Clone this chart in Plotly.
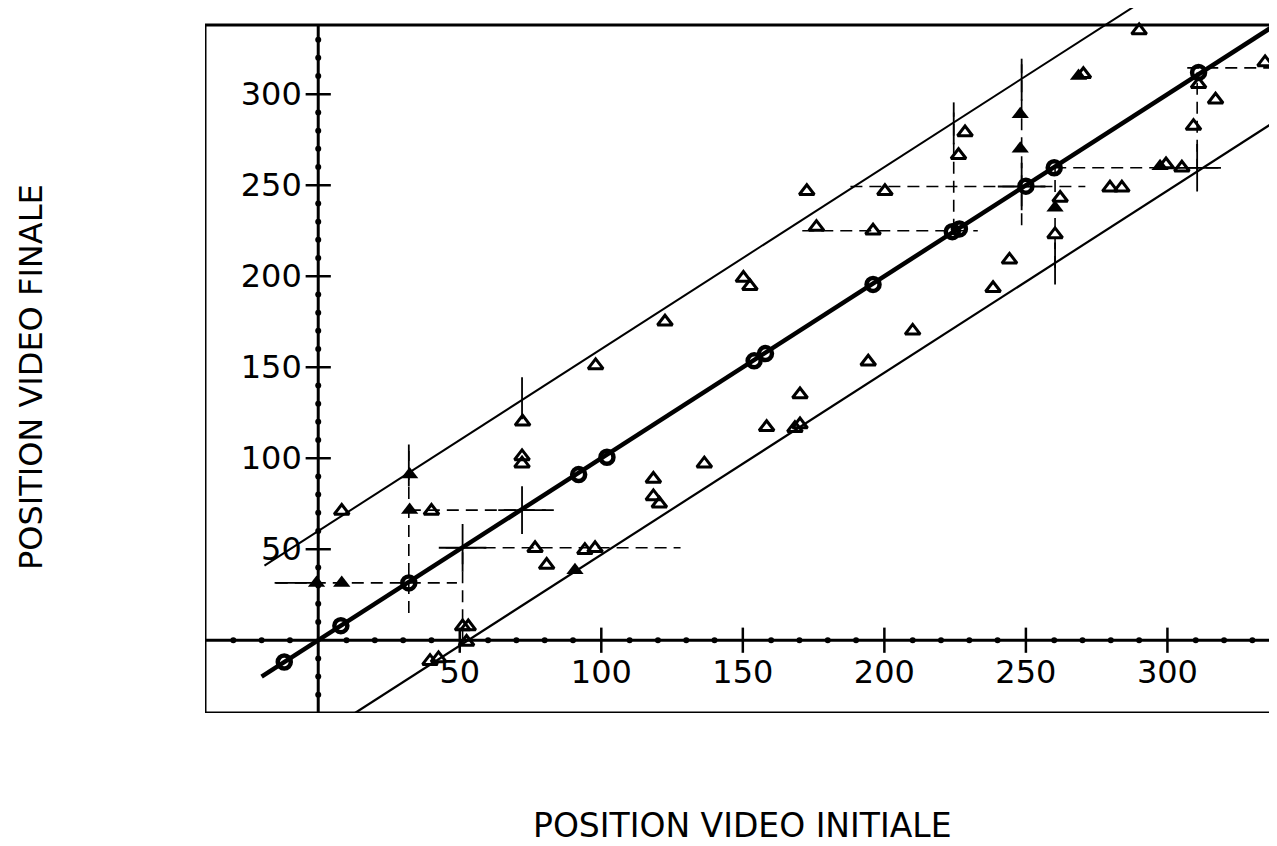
import plotly.graph_objects as go

# Plages des axes
x_range = [-40, 338]
y_range = [-40, 347.4]
frame_top = 338

# Graduations
major_ticks = [50, 100, 150, 200, 250, 300]
minor_ticks = [v for v in range(-30, 340, 10) if v != 0 and v % 50 != 0]

# Droites : diagonale et bandes
diag_x = [-20, 338]
diag_y = [-20, 338]
upper_x = [-19, 288]
upper_y = [41, 348]
lower_x = [13, 338]
lower_y = [-40, 285]

# Points sur la diagonale (cercles)
circ_x = [-12, 8, 32, 92, 102, 154, 158, 196, 224, 226.5, 250, 260, 311]
circ_y = [-12, 8, 31.5, 91, 100.5, 153.5, 157.5, 195.5, 224.5, 226, 249.5, 259.6, 312]

# Triangles ouverts
tri_x = [8.3, 40, 51, 53, 52.4, 39.5, 42.5, 76.6, 80.7, 94.2, 97.8, 72.2, 72, 72,
         98, 122.5, 210, 194.3, 170.2, 158.4, 170.2, 168.4, 136.4, 118.4, 118.4, 120.5,
         228.5, 226.2, 172.6, 200.2, 176, 196, 150.2, 152.5, 238.4, 290, 334.5, 270.3,
         311, 317, 309.2, 299.5, 305.1, 279.7, 283.9, 262.1, 260.3, 244.2]
tri_y = [71, 71, 7.5, 7.5, -1, -11.5, -10, 50.5, 41.3, 49.5, 50.5, 120, 101, 97,
         151, 175, 170, 153, 135, 117, 118.5, 116.5, 97, 88.6, 79, 75,
         279, 266.5, 246.7, 246.7, 227, 225, 199, 194.5, 193.4, 335, 317.5, 311,
         305.5, 297, 282.5, 261.4, 259.6, 248.6, 248.6, 243, 223, 209]

# Triangles pleins
tri_full_x = [-0.6, 8.3, 32.3, 32.3, 248, 248, 297.4, 268.6, 260.3, 90.7]
tri_full_y = [31.5, 31.5, 91, 71.5, 289, 270, 260.5, 310, 237.6, 38.5]

# Projections en tirets (x0, x1, y0, y1)
guide_x0 = [-15, 32, 32, 45, 51, 171, 224.5, 188, 248.5, 260, 260.3, 307, 310.5]
guide_x1 = [49, 32, 84, 128, 51, 233, 224.5, 271, 248.5, 319, 260.3, 338, 310.5]
guide_y0 = [31.5, 15, 71.5, 50.8, 0, 225, 225, 249.3, 228, 259.6, 204.5, 314.5, 258]
guide_y1 = [31.5, 104, 71.5, 50.8, 50.8, 225, 290, 249.3, 316.5, 259.6, 259.6, 314.5, 312]

# Repères pleins aux intersections
cross_x = [72, 51, 248.5, 310.5]
cross_y = [71.5, 50.8, 249.3, 259.6]
vtick_x = [32, 72, 224.5, 248.5, 260.3]
vtick_y = [96, 133, 284, 308, 207]
htick_x = [-7]
htick_y = [31.5]

fig = go.Figure()

for a, b, c, d in zip(guide_x0, guide_x1, guide_y0, guide_y1):
    fig.add_trace(go.Scatter(x=[a, b], y=[c, d], mode="lines",
                             line=dict(color="black", width=1.6, dash="12px,7px")))

fig.add_trace(go.Scatter(x=diag_x, y=diag_y, mode="lines", line=dict(color="black", width=4.5)))
fig.add_trace(go.Scatter(x=upper_x, y=upper_y, mode="lines", line=dict(color="black", width=2)))
fig.add_trace(go.Scatter(x=lower_x, y=lower_y, mode="lines", line=dict(color="black", width=2.2)))

fig.add_trace(go.Scatter(x=cross_x, y=cross_y, mode="markers",
                         marker=dict(symbol="cross-thin", size=34, color="black",
                                     line=dict(color="black", width=1.8))))
fig.add_trace(go.Scatter(x=vtick_x, y=vtick_y, mode="markers",
                         marker=dict(symbol="line-ns", size=30, color="black",
                                     line=dict(color="black", width=1.8))))
fig.add_trace(go.Scatter(x=htick_x, y=htick_y, mode="markers",
                         marker=dict(symbol="line-ew", size=34, color="black",
                                     line=dict(color="black", width=1.8))))

# graduations des axes croisés
zeros_major = [0] * len(major_ticks)
zeros_minor = [0] * len(minor_ticks)
fig.add_trace(go.Scatter(x=major_ticks, y=zeros_major, mode="markers",
                         marker=dict(symbol="line-ns", size=18, color="black",
                                     line=dict(color="black", width=2.5))))
fig.add_trace(go.Scatter(x=zeros_major, y=major_ticks, mode="markers",
                         marker=dict(symbol="line-ew", size=18, color="black",
                                     line=dict(color="black", width=2.5))))
fig.add_trace(go.Scatter(x=minor_ticks, y=zeros_minor, mode="markers",
                         marker=dict(symbol="circle", size=6, color="black")))
fig.add_trace(go.Scatter(x=zeros_minor, y=minor_ticks, mode="markers",
                         marker=dict(symbol="circle", size=6, color="black")))

fig.add_trace(go.Scatter(x=circ_x, y=circ_y, mode="markers",
                         marker=dict(symbol="circle-open", size=13, color="black",
                                     line=dict(color="black", width=4.5))))
fig.add_trace(go.Scatter(x=tri_x, y=tri_y, mode="markers",
                         marker=dict(symbol="triangle-up-open", size=13, color="black",
                                     line=dict(color="black", width=3))))
fig.add_trace(go.Scatter(x=tri_full_x, y=tri_full_y, mode="markers",
                         marker=dict(symbol="triangle-up", size=15, color="black")))

# cadre et axes passant par zéro
fig.add_shape(type="rect", xref="x", yref="y", x0=x_range[0], x1=x_range[1],
              y0=y_range[0], y1=frame_top, line=dict(color="black", width=3))
fig.add_shape(type="line", xref="x", yref="y", x0=0, x1=0, y0=y_range[0], y1=frame_top,
              line=dict(color="black", width=3))
fig.add_shape(type="line", xref="x", yref="y", x0=x_range[0], x1=x_range[1], y0=0, y1=0,
              line=dict(color="black", width=3))

tick_font = dict(family="DejaVu Sans", size=32, color="black")
fig.update_layout(
    width=1269, height=838,
    margin=dict(l=197, r=2, t=0, b=133),
    paper_bgcolor="white", plot_bgcolor="white",
    showlegend=False,
    xaxis=dict(range=x_range, showgrid=False, zeroline=False, showline=False,
               tickvals=major_ticks, ticks="outside", ticklen=3, tickcolor="rgba(0,0,0,0)",
               tickfont=tick_font, anchor="free", automargin=False,
               position=(0 - y_range[0]) / (y_range[1] - y_range[0])),
    yaxis=dict(range=y_range, showgrid=False, zeroline=False, showline=False,
               tickvals=major_ticks, ticks="outside", ticklen=10, tickcolor="rgba(0,0,0,0)",
               tickfont=tick_font, anchor="free", automargin=False,
               position=(0 - x_range[0]) / (x_range[1] - x_range[0])),
    annotations=[
        dict(text="POSITION VIDEO INITIALE", xref="paper", yref="paper", x=0.502, y=-0.16,
             xanchor="center", yanchor="middle", showarrow=False,
             font=dict(family="DejaVu Sans", size=33, color="black")),
        dict(text="POSITION VIDEO FINALE", xref="paper", yref="paper", x=-0.162, y=0.476,
             xanchor="center", yanchor="middle", showarrow=False, textangle=-90,
             font=dict(family="DejaVu Sans", size=32, color="black")),
    ],
)

fig.write_html("out.html")
